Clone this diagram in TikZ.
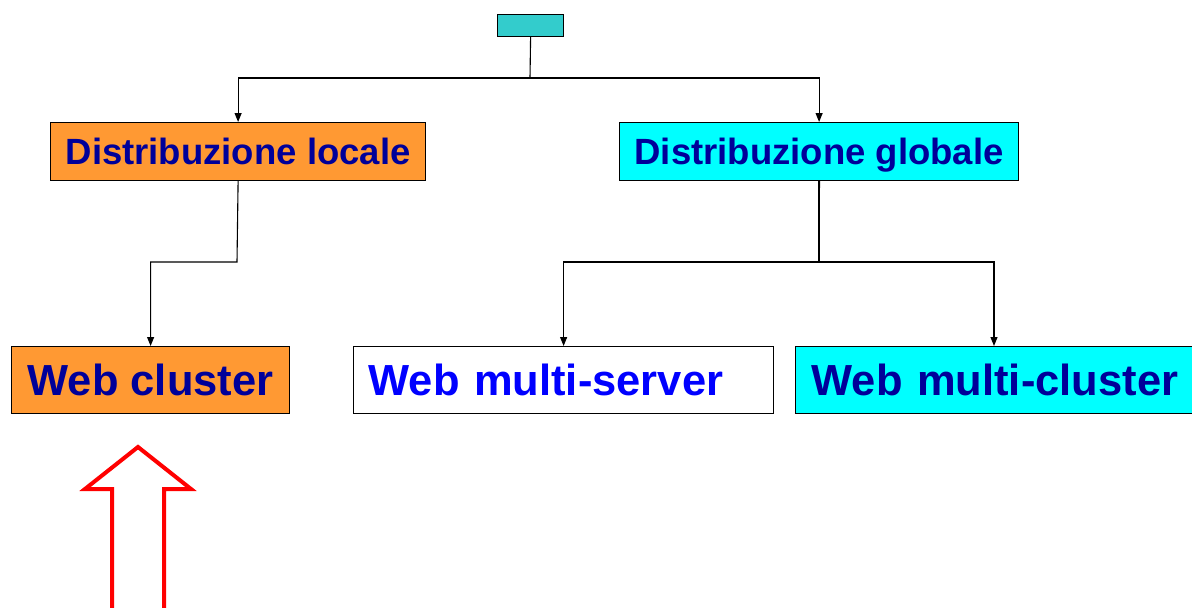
\documentclass[tikz,border=0pt]{standalone}
\usepackage{fontspec}
\setmainfont{Liberation Sans}
\usetikzlibrary{arrows.meta}
\definecolor{orangebox}{HTML}{FF9933}
\definecolor{cyanbox}{HTML}{00FFFF}
\definecolor{tealbox}{HTML}{33CCCC}
\definecolor{darkblue}{HTML}{000099}
\definecolor{brightblue}{HTML}{0000FF}
\tikzset{
  x=1pt, y=1pt,
  box/.style={draw=black, line width=1.2pt, inner sep=0pt, anchor=north west},
  smallt/.style={font=\bfseries\fontsize{36.5}{40}\selectfont, text=darkblue, text height=26.5pt, text depth=1.5pt},
  bigt/.style={font=\bfseries\fontsize{43.5}{48}\selectfont, text=darkblue, text height=31.7pt, text depth=1pt},
  conn/.style={line width=1.1pt, draw=black},
  thickconn/.style={line width=1.8pt, draw=black},
  arr/.style={conn, -{Triangle[width=7pt,length=9pt]}},
  redarrow/.style={draw=red, line width=4pt, line join=miter}
}
\begin{document}
\begin{tikzpicture}
\useasboundingbox (0,0) rectangle (1192,-608);
\clip (0,0) rectangle (1192,-608);
\node[box, fill=tealbox, minimum width=66pt, minimum height=22pt] (top) at (497,-14) {};
\node[box, fill=orangebox, minimum width=375pt, minimum height=58pt, smallt] (loc) at (50,-122) {Distribuzione locale};
\node[box, fill=cyanbox, minimum width=399pt, minimum height=58pt, smallt] (glob) at (619,-122) {Distribuzione globale};
\node[box, fill=orangebox, minimum width=278pt, minimum height=67pt, bigt] (wc) at (11,-346) {Web cluster};
\node[box, fill=white, minimum height=67pt, bigt, text=brightblue, text width=390pt, inner xsep=15pt, align=left] (wms) at (353,-346) {Web multi-server};
\node[box, fill=cyanbox, minimum height=67pt, bigt, text width=400pt, inner xsep=16pt, align=left] (wmc) at (795,-346) {Web multi-cluster};
\coordinate (j1) at (530,-78);
\coordinate (j2) at (237,-262);
\coordinate (j3) at (819,-262);
\coordinate (wmcin) at (994,-346);
\draw[conn] (top.south) -- (j1);
\draw[arr] (j1) -| (loc.north);
\draw[arr] (j1) -| (glob.north);
\draw[arr] (loc.south) -- (j2) -| (wc.north);
\draw[thickconn] (glob.south) -- (j3);
\draw[arr] (j3) -| (wms.north);
\draw[arr] (j3) -| (wmcin);
\coordinate (tip) at (138,-447);
\draw[redarrow] (112,-615) -- (112,-489) -- (85,-489) -- (tip) -- (191,-489) -- (164,-489) -- (164,-615);
\end{tikzpicture}
\end{document}
